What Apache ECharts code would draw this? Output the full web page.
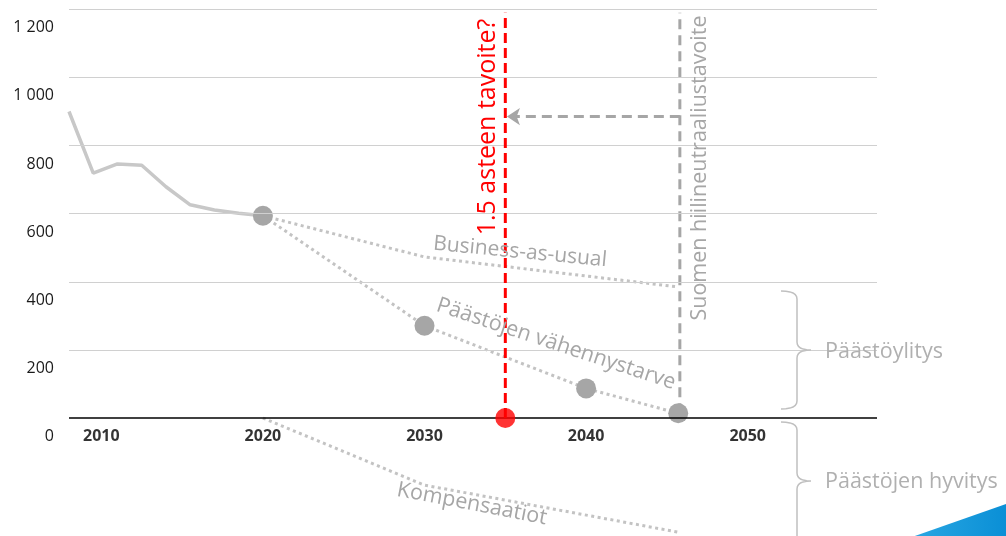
<!DOCTYPE html>
<html>
<head>
<meta charset="utf-8">
<script src="https://cdn.jsdelivr.net/npm/echarts@6/dist/echarts.min.js"></script>
<style>
html,body{margin:0;padding:0;background:#fff;}
#chart{width:1006px;height:536px;}
</style>
</head>
<body>
<div id="chart"></div>
<script>
// ---- data ----
const histYears = [2008, 2009.5, 2011, 2012.5, 2014, 2015.5, 2017, 2018.5, 2020];
const histValues = [900, 719, 746, 742, 679, 626, 611, 601, 594];
const bauYears = [2020, 2030, 2045.7];
const bauValues = [594, 473, 385];
const needYears = [2020, 2030, 2040, 2045.7];
const needValues = [594, 271, 87, 14];
const compYears = [2020, 2030, 2045.7];
const compValues = [0, -197, -335];
const targetYear15 = 2035;
const finlandTargetYear = 2045.8;
const targetLineTop = 1190;
const arrowValue = 885;
const xTickValues = [2010, 2020, 2030, 2040, 2050];
const xTickLabels = ['2010', '2020', '2030', '2040', '2050'];
const yTicks = [0, 200, 400, 600, 800, 1000, 1200];
const yTickLabels = ['0', '200', '400', '600', '800', '1 000', '1 200'];

const zip = (xs, ys) => xs.map((x, i) => [x, ys[i]]);
const FONT = '"Open Sans", "Noto Sans", sans-serif';
const GREY_LINE = '#c3c3c3';
const GREY_DOT = '#a6a6a6';
const GREY_TEXT = '#a6a6a6';

// curly brace outline (decoration) as sampled points
function quad(p0, p1, p2, n) {
  const out = [];
  for (let i = 1; i <= n; i++) {
    const t = i / n, u = 1 - t;
    out.push([u * u * p0[0] + 2 * u * t * p1[0] + t * t * p2[0], u * u * p0[1] + 2 * u * t * p1[1] + t * t * p2[1]]);
  }
  return out;
}
function brace(xl, xs, xt, y0, ym, y1, r) {
  let pts = [[xl, y0]];
  pts = pts.concat(quad([xl, y0], [xs, y0], [xs, y0 + r], 6));
  pts.push([xs, ym - r]);
  pts = pts.concat(quad([xs, ym - r], [xs, ym], [xt, ym], 6));
  pts = pts.concat(quad([xt, ym], [xs, ym], [xs, ym + r], 6));
  pts.push([xs, y1 - r]);
  pts = pts.concat(quad([xs, y1 - r], [xs, y1], [xl, y1], 6));
  return pts;
}

const chart = echarts.init(document.getElementById('chart'), null, {renderer: 'canvas'});

const option = {
  animation: false,
  grid: {left: 69, right: 129, top: 9.3, height: 545, containLabel: false, outerBoundsMode: 'none'},
  xAxis: {
    type: 'value', min: 2008, max: 2058,
    splitLine: {show: false},
    axisTick: {show: false},
    axisLine: {show: false},
    axisLabel: {show: false}
  },
  yAxis: {
    type: 'value', min: -400, max: 1200, interval: 200,
    splitLine: {show: false},
    axisLine: {show: false},
    axisTick: {show: false},
    axisLabel: {
      color: '#1a1a1a', fontFamily: FONT, fontSize: 16, margin: 15,
      verticalAlign: 'top', lineHeight: 37,
      formatter: v => { const i = yTicks.indexOf(v); return i >= 0 ? yTickLabels[i] : ''; }
    }
  },
  series: [
    {
      name: 'grid', type: 'line', data: [], z: 0, silent: true,
      markLine: {
        silent: true, symbol: 'none', label: {show: false},
        lineStyle: {color: '#d0d0d0', width: 1.2, type: 'solid'},
        emphasis: {disabled: true},
        data: yTicks.filter(v => v > 0).map(v => ({yAxis: v}))
      }
    },
    {
      name: 'x-akseli', type: 'line', data: [], z: 1, silent: true,
      markLine: {
        silent: true, symbol: 'none', label: {show: false},
        lineStyle: {color: '#000', width: 1.5, type: 'solid'},
        emphasis: {disabled: true},
        data: [{yAxis: 0}]
      }
    },
    {
      name: 'x-tunnisteet', type: 'scatter', z: 1, silent: true,
      data: xTickValues.map((v, i) => ({value: [v, 0], name: xTickLabels[i]})),
      symbol: 'circle', symbolSize: 1, itemStyle: {color: 'rgba(0,0,0,0)'},
      label: {show: true, position: 'bottom', distance: 10, formatter: '{b}',
        color: '#000', fontFamily: FONT, fontSize: 16, fontWeight: 'bold'}
    },
    {
      name: 'Historia', type: 'line', data: zip(histYears, histValues),
      showSymbol: false, symbol: 'none', z: 3,
      lineStyle: {color: '#c8c8c8', width: 3.5}
    },
    {
      name: 'Business-as-usual', type: 'line', data: zip(bauYears, bauValues),
      showSymbol: false, symbol: 'none', z: 3,
      lineStyle: {color: GREY_LINE, width: 3, type: [3, 3.5]}
    },
    {
      name: 'Kompensaatiot', type: 'line', data: zip(compYears, compValues),
      showSymbol: false, symbol: 'none', z: 3,
      lineStyle: {color: GREY_LINE, width: 3, type: [3, 3.5]}
    },
    {
      name: 'Suomen tavoite', type: 'line', z: 2,
      data: [[finlandTargetYear, needValues[needValues.length - 1]], [finlandTargetYear, targetLineTop]],
      showSymbol: false, symbol: 'none',
      lineStyle: {color: '#a6a6a6', width: 3, type: [10, 6]},
      markLine: {
        silent: true, symbol: ['none', 'arrow'], symbolSize: 13, label: {show: false},
        lineStyle: {color: '#a6a6a6', width: 3, type: [10, 6]},
        emphasis: {disabled: true},
        data: [[{coord: [finlandTargetYear, arrowValue]}, {coord: [targetYear15 + 0.1, arrowValue]}]]
      }
    },
    {
      name: 'Päästöjen vähennystarve', type: 'line', data: zip(needYears, needValues),
      symbol: 'circle', symbolSize: 20, showSymbol: true, z: 4,
      itemStyle: {color: GREY_DOT, borderWidth: 0},
      lineStyle: {color: GREY_LINE, width: 3, type: [3, 3.5]}
    },
    {
      name: '1.5 asteen tavoite', type: 'line', z: 5,
      data: [[targetYear15, 0], [targetYear15, targetLineTop]],
      showSymbol: false, symbol: 'none',
      lineStyle: {color: '#ff0000', width: 3, type: [10, 5]}
    },
    {
      name: '1.5 piste', type: 'scatter', z: 6,
      data: [[targetYear15, 0]], symbolSize: 20,
      itemStyle: {color: '#ff0000'}
    }
  ],
  graphic: [
    {type: 'text', x: 488, y: 127, rotation: Math.PI / 2, z: 10,
      style: {text: '1.5 asteen tavoite?', fill: '#ff0000', font: '25px ' + FONT, textAlign: 'center', textVerticalAlign: 'middle'}},
    {type: 'text', x: 700, y: 168, rotation: Math.PI / 2, z: 10,
      style: {text: 'Suomen hiilineutraaliustavoite', fill: GREY_TEXT, font: '21.5px ' + FONT, textAlign: 'center', textVerticalAlign: 'middle'}},
    {type: 'text', x: 520, y: 252, rotation: -0.096, z: 10,
      style: {text: 'Business-as-usual', fill: GREY_TEXT, font: '21px ' + FONT, textAlign: 'center', textVerticalAlign: 'middle'}},
    {type: 'text', x: 556, y: 344, rotation: -0.32, z: 10,
      style: {text: 'Päästöjen vähennystarve', fill: GREY_TEXT, font: '21.5px ' + FONT, textAlign: 'center', textVerticalAlign: 'middle'}},
    {type: 'text', x: 472, y: 504, rotation: -0.19, z: 10,
      style: {text: 'Kompensaatiot', fill: GREY_TEXT, font: '21.5px ' + FONT, textAlign: 'center', textVerticalAlign: 'middle'}},
    {type: 'text', x: 825, y: 352, z: 10,
      style: {text: 'Päästöylitys', fill: '#b0b0b0', font: '21.5px ' + FONT, textAlign: 'left', textVerticalAlign: 'middle'}},
    {type: 'text', x: 825, y: 482, z: 10,
      style: {text: 'Päästöjen hyvitys', fill: '#b0b0b0', font: '21.5px ' + FONT, textAlign: 'left', textVerticalAlign: 'middle'}},
    {type: 'polyline', z: 9, shape: {points: brace(781, 797, 811, 291, 350, 409, 8)},
      style: {fill: null, stroke: '#c0c0c0', lineWidth: 1.5}},
    {type: 'polyline', z: 9, shape: {points: brace(781, 797, 811, 422, 481, 560, 8)},
      style: {fill: null, stroke: '#c0c0c0', lineWidth: 1.5}},
    {type: 'polygon', z: 9, shape: {points: [[912, 537], [1006, 504], [1006, 537]]},
      style: {fill: {type: 'linear', x: 0, y: 0, x2: 1, y2: 0, colorStops: [{offset: 0, color: '#2aa7e2'}, {offset: 1, color: '#0a8fd6'}]}}}
  ]
};
chart.setOption(option);
</script>
</body>
</html>
